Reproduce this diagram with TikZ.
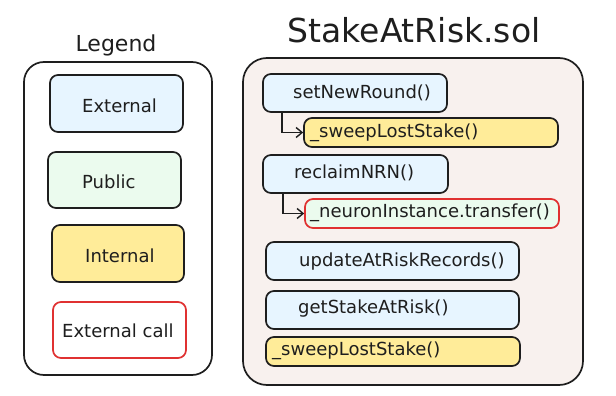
\documentclass[tikz,border=0pt]{standalone}
\usepackage{fontspec}
\setmainfont{DejaVu Sans}
\usetikzlibrary{arrows.meta}
\definecolor{ink}{HTML}{1E1E1E}
\definecolor{extfill}{HTML}{E7F5FF}
\definecolor{pubfill}{HTML}{EBFBEE}
\definecolor{intfill}{HTML}{FFEC99}
\definecolor{callred}{HTML}{E03131}
\definecolor{panelfill}{HTML}{F8F1EE}
\tikzset{
  box/.style={draw=ink, line width=1.7pt, rounded corners=8pt, inner sep=0pt},
  extbox/.style={box, fill=extfill},
  pubbox/.style={box, fill=pubfill},
  intbox/.style={box, fill=intfill},
  callbox/.style={box, draw=callred},
  label/.style={anchor=west, inner sep=0pt, text=ink, font=\fontsize{18}{21}\selectfont},
  callarrow/.style={draw=ink, line width=1.4pt, -{Straight Barb[length=6pt,width=10pt]}},
}
\begin{document}
\begin{tikzpicture}[x=1pt,y=-1pt]
\useasboundingbox (0,0) rectangle (616,396);

% legend panel
\node[text=ink, font=\fontsize{22}{26}\selectfont, inner sep=0pt] (legendtitle) at (116,45) {Legend};
\node[box, rounded corners=20pt, fill=white, minimum width=188pt, minimum height=313pt] (legend) at (118,218.5) {};
\node[extbox, minimum width=133pt, minimum height=57pt] (lext) at (116.5,103.5) {};
\node[pubbox, minimum width=133pt, minimum height=56pt] (lpub) at (114.5,180) {};
\node[intbox, minimum width=132pt, minimum height=57pt] (lint) at (118,253.5) {};
\node[callbox, fill=white, minimum width=133pt, minimum height=56pt] (lcall) at (119.5,330) {};
\node[label] (tlext) at (82,106) {External};
\node[label] (tlpub) at (82,182) {Public};
\node[label] (tlint) at (85,256) {Internal};
\node[label] (tlcall) at (62,331) {External call};

% contract panel
\node[text=ink, font=\fontsize{33}{38}\selectfont, inner sep=0pt] (title) at (414,30) {StakeAtRisk.sol};
\node[box, rounded corners=24pt, fill=panelfill, minimum width=340pt, minimum height=327pt] (contract) at (413,221.5) {};

\node[extbox, minimum width=184pt, minimum height=38pt] (snr) at (355,93) {};
\node[intbox, minimum width=254pt, minimum height=29pt] (sweepa) at (431,132.5) {};
\node[extbox, minimum width=185pt, minimum height=38pt] (rec) at (355.5,174) {};
\node[callbox, fill=pubfill, minimum width=254pt, minimum height=29pt] (xfer) at (432,213.5) {};
\node[extbox, minimum width=253pt, minimum height=38pt] (upd) at (392.5,261) {};
\node[extbox, minimum width=253pt, minimum height=38pt] (get) at (392.5,310) {};
\node[intbox, minimum width=254pt, minimum height=29pt] (sweepb) at (393,351.5) {};

\node[label] (tsnr) at (293,93) {setNewRound()};
\node[label] (tsweepa) at (310,133) {\_sweepLostStake()};
\node[label] (trec) at (294,173) {reclaimNRN()};
\node[label] (txfer) at (310,213) {\_neuronInstance.transfer()};
\node[label] (tupd) at (299,262) {updateAtRiskRecords()};
\node[label] (tget) at (298,309) {getStakeAtRisk()};
\node[label] (tsweepb) at (272,351) {\_sweepLostStake()};

% internal calls
\draw[callarrow] ([xshift=20pt]snr.south west) |- (sweepa.west);
\draw[callarrow] ([xshift=21pt]rec.south west) |- (xfer.west);
\end{tikzpicture}
\end{document}
